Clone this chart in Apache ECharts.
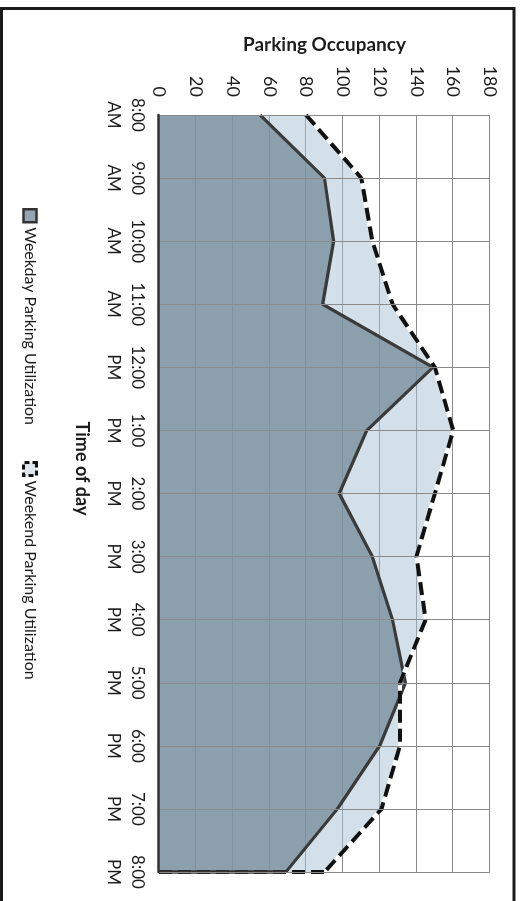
<!DOCTYPE html>
<html>
<head>
<meta charset="utf-8">
<script src="https://cdn.jsdelivr.net/npm/echarts@6/dist/echarts.min.js"></script>
<style>
  html, body { margin: 0; padding: 0; background: #fff; overflow: hidden; }
  /* The chart is laid out landscape and turned a quarter clockwise onto the portrait page */
  #chart {
    position: absolute; left: 0; top: 0;
    width: 901px; height: 526px;
    transform-origin: 0 0;
    transform: translate(526px, 0) rotate(90deg);
  }
</style>
</head>
<body>
<div id="chart"></div>
<script>
const categories = ['8:00\nAM', '9:00\nAM', '10:00\nAM', '11:00\nAM', '12:00\nPM', '1:00\nPM',
  '2:00\nPM', '3:00\nPM', '4:00\nPM', '5:00\nPM', '6:00\nPM', '7:00\nPM', '8:00\nPM'];
const weekday = [55, 90, 95, 89, 149, 113, 98, 116, 127, 134, 120, 97, 69];
const weekend = [80, 110, 116, 127, 150, 160, 150, 140, 145, 131, 131, 121, 90];
const weekdayName = 'Weekday Parking Utilization';
const weekendName = 'Weekend Parking Utilization';
const yMin = 0, yMax = 180, yStep = 20;

const FONT = 'Lato, "Liberation Sans", sans-serif';
const INK = '#1c1c1c';
const GRID = '#8a8a8a';
const WEEKDAY_FILL = 'rgba(116,138,154,0.76)';
const WEEKEND_FILL = 'rgba(168,193,211,0.5)';
const last = categories.length - 1;

const chart = echarts.init(document.getElementById('chart'));
chart.setOption({
  animation: false,
  backgroundColor: '#fff',
  textStyle: { fontFamily: FONT, color: INK },
  grid: { left: 115, right: 29, top: 36, bottom: 159 },
  graphic: [{
    type: 'rect', silent: true, z: 100,
    shape: { x: 8.5, y: 12, width: 1000, height: 512.5 },
    style: { fill: null, stroke: '#1a1a1a', lineWidth: 3 }
  }],
  legend: {
    left: 203, top: 483,
    itemWidth: 13, itemHeight: 13, itemGap: 36,
    textStyle: { fontFamily: FONT, fontSize: 16, color: INK },
    data: [
      { name: weekdayName, icon: 'rect',
        itemStyle: { color: '#94a6b3', borderColor: '#333', borderWidth: 2.5 } },
      { name: weekendName, icon: 'rect',
        itemStyle: { color: '#dde7ee', borderColor: '#111', borderWidth: 3, borderType: [5, 3] } }
    ]
  },
  xAxis: {
    type: 'category', data: categories, boundaryGap: false, z: 10,
    axisLine: { lineStyle: { color: '#333', width: 2.5 } },
    axisTick: { show: false },
    axisLabel: { interval: 0, fontSize: 17, lineHeight: 24, margin: 10, color: INK, fontFamily: FONT },
    splitLine: { show: true, lineStyle: { color: GRID, width: 1 } },
    name: 'Time of day', nameLocation: 'middle', nameGap: 68,
    nameTextStyle: { fontSize: 18, fontWeight: 'bold', color: INK, fontFamily: FONT, padding: [0, 50, 0, 0] }
  },
  yAxis: {
    type: 'value', min: yMin, max: yMax, interval: yStep,
    axisLine: { show: false }, axisTick: { show: false },
    axisLabel: { fontSize: 18, margin: 18, color: INK, fontFamily: FONT },
    splitLine: { lineStyle: { color: GRID, width: 1 } },
    name: 'Parking Occupancy', nameLocation: 'middle', nameRotate: 90, nameGap: 57,
    nameTextStyle: { fontSize: 19, fontWeight: 'bold', color: INK, fontFamily: FONT }
  },
  series: [
    {
      name: weekendName, type: 'line', data: weekend, z: 2,
      symbol: 'none', itemStyle: { color: '#dde7ee' },
      lineStyle: { width: 0, opacity: 0 },
      areaStyle: { color: WEEKEND_FILL, opacity: 1 },
      markLine: {
        silent: true, symbol: 'none', z: 5, label: { show: false },
        lineStyle: { color: '#111', width: 4, type: [13, 6] },
        data: [[{ coord: [last, 0] }, { coord: [last, weekend[last]] }]]
      }
    },
    {
      name: weekdayName, type: 'line', data: weekday, z: 3,
      symbol: 'none', itemStyle: { color: '#94a6b3' },
      lineStyle: { color: '#3a3a3a', width: 3.2 },
      areaStyle: { color: WEEKDAY_FILL, opacity: 1 },
      markLine: {
        silent: true, symbol: 'none', z: 6, label: { show: false },
        lineStyle: { color: '#333', width: 3.5, type: 'solid' },
        data: [[{ coord: [last, 0] }, { coord: [last, weekday[last]] }]]
      }
    },
    {
      // white under-stroke so the gaps of the dashed outline read as white
      id: 'weekendBacking', type: 'line', data: weekend, z: 4,
      symbol: 'none', silent: true,
      lineStyle: { color: '#ffffff', width: 4 }
    },
    {
      id: 'weekendOutline', type: 'line', data: weekend, z: 4,
      symbol: 'none', silent: true,
      lineStyle: { color: '#111', width: 4, type: [13, 6] }
    }
  ]
});
</script>
</body>
</html>
